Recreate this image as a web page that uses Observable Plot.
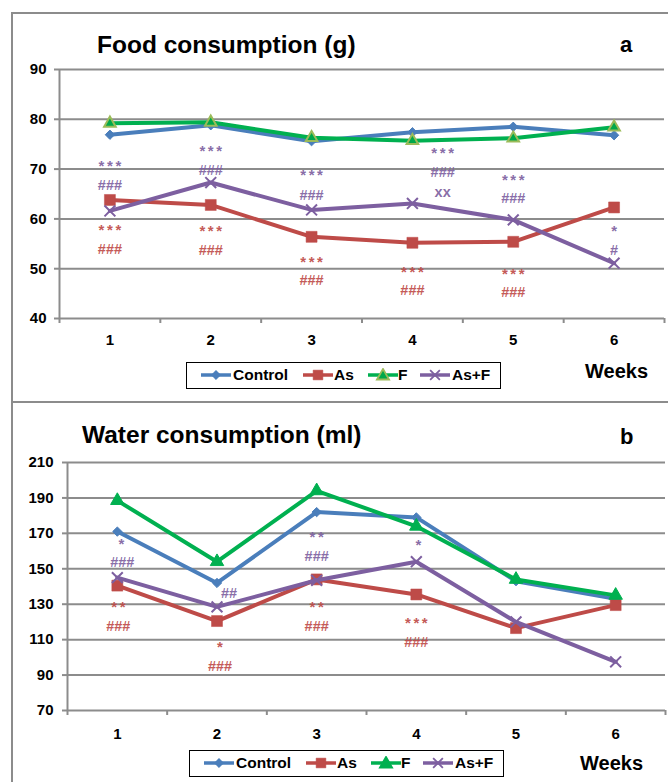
<!DOCTYPE html>
<html><head><meta charset="utf-8">
<script src="https://cdn.jsdelivr.net/npm/d3@7"></script>
<script src="https://cdn.jsdelivr.net/npm/@observablehq/plot@0.6"></script>
<style>
body{margin:0;background:#fff;font-family:"Liberation Sans",Arial,sans-serif;}
#page{position:relative;width:668px;height:782px;overflow:hidden;background:#fff;}
.frame{position:absolute;border:2px solid #8c8c8c;box-sizing:border-box;}
.title{position:absolute;font-weight:bold;font-size:24.5px;color:#000;white-space:nowrap;line-height:1;}
.letter{position:absolute;font-weight:bold;font-size:22px;color:#000;line-height:1;}
.weeks{position:absolute;font-weight:bold;font-size:20px;color:#000;line-height:1;}
.legend{position:absolute;width:315px;height:27px;border:1.6px solid #000;box-sizing:border-box;background:#fff;}
.legend .sw{position:absolute;top:5px;}
.legend .lab{position:absolute;top:4px;font-weight:bold;font-size:15.5px;line-height:1;color:#000;}
.chart{position:absolute;left:0;}
.chart svg [aria-label^="x-axis"] line,.chart svg [aria-label^="x-axis"] path,
.chart svg [aria-label^="y-axis"] line,.chart svg [aria-label^="y-axis"] path{stroke:#8c8c8c;stroke-width:2px;}
</style></head>
<body><div id="page"></div>
<script>
// ---------- data ----------
const weeks = [1, 2, 3, 4, 5, 6];
const seriesNames = ["Control", "As", "F", "As+F"];
const seriesColors = ["#4A7EBB", "#BE4B48", "#00B050", "#7D5FA0"];

const foodControl = [76.9, 78.8, 75.6, 77.4, 78.5, 76.8];
const foodAs      = [63.8, 62.8, 56.4, 55.2, 55.4, 62.3];
const foodF       = [79.2, 79.4, 76.3, 75.7, 76.2, 78.4];
const foodAsF     = [61.6, 67.3, 61.8, 63.1, 59.8, 51.1];

const waterControl = [171, 142, 182, 179, 143, 133];
const waterAs      = [140.5, 120.5, 144, 135.5, 116.5, 129.5];
const waterF       = [188.5, 154, 194, 174, 144, 135];
const waterAsF     = [145, 128.5, 143.5, 154, 120, 97.5];

const foodTicks = [40, 50, 60, 70, 80, 90];
const waterTicks = [70, 90, 110, 130, 150, 170, 190, 210];

// significance labels: [week, value, label, series]
const foodNotes = [
  [1, 71.4, "***", "As+F"], [1, 66.7, "###", "As+F"], [1, 58.7, "***", "As"], [1, 53.9, "###", "As"],
  [2, 74.6, "***", "As+F"], [2, 69.7, "###", "As+F"], [2, 58.5, "***", "As"], [2, 53.7, "###", "As"],
  [3, 69.6, "***", "As+F"], [3, 64.7, "###", "As+F"], [3, 52.3, "***", "As"], [3, 47.6, "###", "As"],
  [4.3, 74.1, "***", "As+F"], [4.3, 69.4, "###", "As+F"], [4.3, 65.4, "xx", "As+F"],
  [4, 50.3, "***", "As"], [4, 45.6, "###", "As"],
  [5, 68.7, "***", "As+F"], [5, 64.2, "###", "As+F"], [5, 49.8, "***", "As"], [5, 45.3, "###", "As"],
  [6, 58.5, "*", "As+F"], [6, 53.7, "#", "As+F"]
];
const waterNotes = [
  [1.04, 166.4, "*", "As+F"], [1.05, 153.4, "###", "As+F"], [1.01, 130.6, "**", "As"], [1.01, 117.6, "###", "As"],
  [2.12, 135.9, "##", "As+F"], [2.03, 108, "*", "As"], [2.03, 94.8, "###", "As"],
  [3, 170.1, "**", "As+F"], [3, 156.9, "###", "As+F"], [3, 130.6, "**", "As"], [3, 117.6, "###", "As"],
  [4.02, 165.6, "*", "As+F"], [4, 121.7, "***", "As"], [4, 108.5, "###", "As"]
];

// ---------- helpers ----------
const colorOf = n => seriesColors[seriesNames.indexOf(n)];
const page = document.getElementById("page");
function add(html, cls, style) {
  const d = document.createElement("div");
  d.className = cls; d.style.cssText = style; d.innerHTML = html; page.appendChild(d); return d;
}

function markerSpec(name, panel) {
  if (name === "Control") return {symbol: "diamond2", r: 4.2, fill: colorOf(name), stroke: colorOf(name), strokeWidth: 1};
  if (name === "As") return {symbol: "square", r: 6.2, fill: colorOf(name), stroke: colorOf(name), strokeWidth: 0.5};
  if (name === "F") return panel === "food"
    ? {symbol: "triangle", r: 4.3, fill: "#00A84A", stroke: "#9BBB59", strokeWidth: 2}
    : {symbol: "triangle", r: 5, fill: colorOf(name), stroke: colorOf(name), strokeWidth: 1};
  return {symbol: "times", r: 5, fill: "none", stroke: colorOf(name), strokeWidth: 2};
}

function buildChart({panel, values, ticks, notes, top, height, marginTop, marginBottom, marginLeft, marginRight, tickPadding, labelDy}) {
  const xDomain = [weeks[0] - 0.5, weeks[weeks.length - 1] + 0.5];
  const bounds = [xDomain[0], ...weeks.map(w => w + 0.5)];
  const marks = [
    Plot.ruleY(ticks, {stroke: "#8c8c8c", strokeWidth: 2}),
    Plot.ruleX([xDomain[0]], {stroke: "#8c8c8c", strokeWidth: 2})
  ];
  seriesNames.forEach((name, k) => {
    const rows = weeks.map((w, i) => ({week: w, value: values[k][i]}));
    marks.push(Plot.line(rows, {x: "week", y: "value", stroke: colorOf(name), strokeWidth: 4, strokeLinejoin: "round"}));
    marks.push(Plot.dot(rows, {x: "week", y: "value", ...markerSpec(name, panel)}));
  });
  ["As+F", "As"].forEach(g => {
    const rows = notes.filter(n => n[3] === g).map(n => ({week: n[0], value: n[1], label: n[2]}));
    marks.push(Plot.text(rows, {x: "week", y: "value", text: "label", fill: colorOf(g), fillOpacity: 0.92,
      fontSize: 14.5, fontWeight: "bold"}));
  });
  marks.push(Plot.text(weeks, {x: d => d, text: d => String(d), frameAnchor: "bottom", lineAnchor: "middle", dy: labelDy,
    fontSize: 15, fontWeight: "bold", fill: "#000"}));
  const svg = Plot.plot({
    width: 668, height, marginTop, marginBottom, marginLeft, marginRight,
    style: {fontFamily: "'Liberation Sans', Arial, sans-serif", fontSize: "15px", fontWeight: "bold", color: "#000", background: "transparent", overflow: "visible"},
    x: {domain: xDomain, ticks: bounds, tickSize: 5, tickFormat: () => "", label: null},
    y: {domain: [ticks[0], ticks[ticks.length - 1]], ticks, tickSize: 5, tickPadding, label: null},
    marks
  });
  d3.select(svg).selectAll("text").filter(function() { return /^\*+$/.test(this.textContent); })
    .style("letter-spacing", "2.6px").style("font-size", "15px")
    .attr("transform", function() { const t = this.getAttribute("transform") || ""; return t + " translate(1.3,4.5)"; });
  const wrap = document.createElement("div");
  wrap.className = "chart"; wrap.style.top = top + "px";
  wrap.appendChild(svg); page.appendChild(wrap);
}

function symbolPath(name) {
  const m = {Control: [d3.symbolDiamond2, 4.2], As: [d3.symbolSquare, 5.5], F: [d3.symbolTriangle, 4.5], "As+F": [d3.symbolTimes, 4.5]}[name];
  return d3.symbol(m[0], Math.PI * m[1] * m[1])();
}
function legend(left, top, panel) {
  const box = add("", "legend", `left:${left}px;top:${top}px;`);
  const pos = [[14, 46], [116, 147], [181, 211], [233, 265]];
  seriesNames.forEach((name, k) => {
    const c = colorOf(name);
    const spec = markerSpec(name, panel);
    const fill = name === "As+F" ? "none" : (spec.fill);
    const stroke = name === "F" && panel === "food" ? "#9BBB59" : c;
    const sw = document.createElement("div");
    sw.className = "sw"; sw.style.left = pos[k][0] + "px";
    sw.innerHTML = `<svg width="30" height="14"><line x1="0" x2="30" y1="7" y2="7" stroke="${c}" stroke-width="3.5"/>
      <path transform="translate(15,${name === "F" ? 8 : 7})" d="${symbolPath(name)}" fill="${fill}" stroke="${stroke}" stroke-width="${name === "As+F" || name === "F" ? 1.8 : 0.5}"/></svg>`;
    box.appendChild(sw);
    const lb = document.createElement("div");
    lb.className = "lab"; lb.style.left = pos[k][1] + "px"; lb.textContent = name;
    box.appendChild(lb);
  });
}

// ---------- frames & text ----------
add("", "frame", "left:11px;top:12px;width:700px;height:391px;");
add("", "frame", "left:11px;top:401px;width:700px;height:400px;");

buildChart({panel: "food", values: [foodControl, foodAs, foodF, foodAsF], ticks: foodTicks, notes: foodNotes,
  top: 0, height: 352, marginTop: 69, marginBottom: 34, marginLeft: 59, marginRight: 4, tickPadding: 8, labelDy: 22});
buildChart({panel: "water", values: [waterControl, waterAs, waterF, waterAsF], ticks: waterTicks, notes: waterNotes,
  top: 402, height: 352, marginTop: 60, marginBottom: 44, marginLeft: 67, marginRight: 3, tickPadding: 9, labelDy: 24});

add("Food consumption (g)", "title", "left:97px;top:33px;");
add("a", "letter", "left:620px;top:34px;");
add("Water consumption (ml)", "title", "left:82px;top:423px;");
add("b", "letter", "left:620px;top:426px;");
add("Weeks", "weeks", "left:585px;top:361px;");
add("Weeks", "weeks", "left:580px;top:753px;");
legend(186, 362, "food");
legend(189, 750, "water");
</script></body></html>
